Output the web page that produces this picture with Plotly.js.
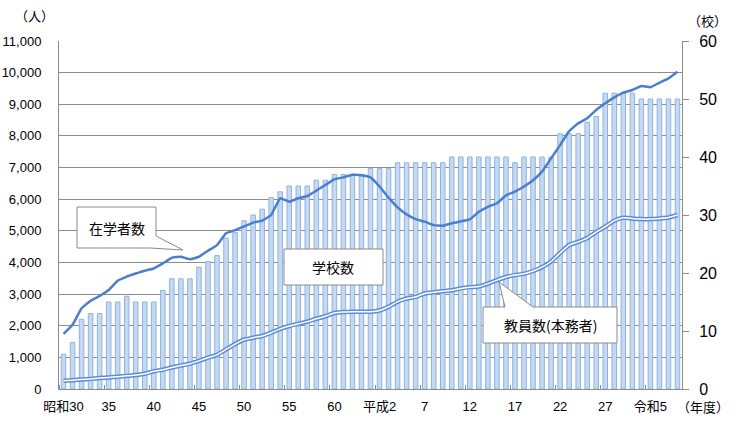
<!DOCTYPE html>
<html><head><meta charset="utf-8">
<script src="https://cdn.plot.ly/plotly-3.0.1.min.js"></script>
<style>html,body{margin:0;padding:0;background:#fff;}#chart{width:756px;height:428px;}</style>
</head><body><div id="chart"></div>
<script>
// fiscal years 昭和30 (1955) … 令和5 (2023)
const years = [1955,1956,1957,1958,1959,1960,1961,1962,1963,1964,1965,1966,1967,1968,1969,1970,1971,1972,1973,1974,1975,1976,1977,1978,1979,1980,1981,1982,1983,1984,1985,1986,1987,1988,1989,1990,1991,1992,1993,1994,1995,1996,1997,1998,1999,2000,2001,2002,2003,2004,2005,2006,2007,2008,2009,2010,2011,2012,2013,2014,2015,2016,2017,2018,2019,2020,2021,2022,2023];
// 学校数 (校) - right axis
const schools = [6,8,12,13,13,15,15,16,15,15,15,17,19,19,19,21,22,23,26,27,29,30,31,33,34,35,35,35,36,36,37,37,37,37,38,38,38,39,39,39,39,39,39,40,40,40,40,40,40,40,39,40,40,40,40,44,44,44,46,47,51,51,51,51,50,50,50,50,50];
// 在学者数 (人) - left axis
const students = [1740,2030,2550,2790,2940,3130,3420,3550,3650,3740,3810,3970,4150,4180,4100,4180,4370,4550,4920,5020,5140,5260,5320,5500,6030,5920,6030,6100,6270,6450,6630,6690,6770,6760,6690,6400,6050,5740,5520,5370,5290,5180,5160,5240,5300,5360,5600,5760,5870,6120,6240,6400,6600,6870,7290,7710,8150,8400,8560,8820,9030,9220,9370,9450,9580,9540,9680,9820,10030];
// 教員数(本務者) (人) - left axis
const teachers = [262,280,300,320,345,365,390,415,440,480,560,610,680,740,800,890,990,1080,1250,1420,1560,1620,1675,1780,1900,1990,2060,2130,2220,2300,2400,2430,2440,2440,2440,2480,2600,2760,2860,2910,3020,3060,3090,3120,3180,3220,3240,3330,3440,3540,3600,3640,3730,3850,4030,4300,4550,4650,4770,4960,5130,5320,5410,5390,5370,5370,5390,5420,5500];
// x-axis tick labels
const tickYears = [1955,1960,1965,1970,1975,1980,1985,1990,1995,2000,2005,2010,2015,2020];
const tickLabels = ['昭和30','35','40','45','50','55','60','平成2','7','12','17','22','27','令和5'];
const seriesNames = ['学校数','在学者数','教員数(本務者)'];

const L=59, R=682, T=41, B=389;
const px = x => (x-L)/(R-L);
const py = y => (B-y)/(B-T);
const P = (x,y) => px(x)+','+py(y);

const FONT = 'Liberation Sans, Arial, Noto Sans CJK JP, sans-serif';
const JFONT = 'Noto Sans CJK JP, sans-serif';
const GRID = '#8c8c8c';

const traces = [
  {type:'bar', name:seriesNames[0], x:years, y:schools, xaxis:'x', yaxis:'y', width:0.5,
   marker:{color:'#c6d9f1', line:{color:'#8db3e2', width:1}}},
  {type:'scatter', mode:'lines', name:seriesNames[2], x:years, y:teachers, xaxis:'x', yaxis:'y2',
   line:{color:'#5d8dd8', width:4.5, shape:'spline', smoothing:0.4}},
  {type:'scatter', mode:'lines', name:seriesNames[2], x:years, y:teachers, xaxis:'x', yaxis:'y2',
   line:{color:'#ffffff', width:1.5, shape:'spline', smoothing:0.4}},
  {type:'scatter', mode:'lines', name:seriesNames[1], x:years, y:students, xaxis:'x', yaxis:'y2',
   line:{color:'#4a7ecf', width:2.5, shape:'spline', smoothing:0.3}}
];

const boxStyle = {type:'path', xref:'paper', yref:'paper', layer:'above',
  fillcolor:'#ffffff', line:{color:'#8a8a8a', width:1}};

function note(text, x, y, size){
  return {text:text, xref:'paper', yref:'paper', x:px(x), y:py(y), xanchor:'center', yanchor:'middle',
    showarrow:false, font:{family:JFONT, size:size, color:'#000'}};
}

const layout = {
  width:756, height:428, showlegend:false,
  paper_bgcolor:'#ffffff', plot_bgcolor:'#ffffff',
  margin:{l:L, r:756-R, t:T, b:428-B, autoexpand:false},
  font:{family:FONT, color:'#000'},
  bargap:0,
  xaxis:{range:[1954.5,2023.5], tickmode:'array', tickvals:tickYears, ticktext:tickLabels,
    ticks:'', showline:true, linecolor:GRID, showgrid:false, zeroline:false,
    tickfont:{size:13, family:FONT, color:'#000'}, ticklabelstandoff:5,
    minor:{tickmode:'linear', tick0:1959.5, dtick:5, ticks:'inside', ticklen:4, tickcolor:GRID, showgrid:false}},
  yaxis:{side:'right', range:[0,60], dtick:10, showgrid:false, showline:true, linecolor:GRID,
    ticks:'outside', ticklen:6, tickcolor:GRID, zeroline:false, ticklabelstandoff:7,
    tickfont:{size:16, family:FONT, color:'#000'}},
  yaxis2:{overlaying:'y', side:'left', range:[0,11000], dtick:1000, tickformat:',d',
    showgrid:true, gridcolor:GRID, gridwidth:1, showline:true, linecolor:GRID,
    ticks:'', zeroline:false, tickfont:{size:13, family:FONT, color:'#000'}, ticklabelstandoff:14},
  shapes:[
    Object.assign({}, boxStyle, {path:'M'+P(77,207)+'L'+P(156,207)+'L'+P(156,236)+'L'+P(183,250)+'L'+P(150,248)+'L'+P(77,248)+'Z'}),
    Object.assign({}, boxStyle, {path:'M'+P(284,249)+'L'+P(383,249)+'L'+P(383,285)+'L'+P(284,285)+'Z'}),
    Object.assign({}, boxStyle, {path:'M'+P(483,307)+'L'+P(505,307)+'L'+P(499,282)+'L'+P(533,307)+'L'+P(617,307)+'L'+P(617,343)+'L'+P(483,343)+'Z'})
  ],
  annotations:[
    note(seriesNames[1], 117, 228, 14),
    note(seriesNames[0], 333, 267, 14),
    note(seriesNames[2], 550, 325, 14),
    note('（人）', 34, 15, 13),
    note('（校）', 707, 21, 13),
    note('（年度）', 703, 406, 13)
  ]
};

Plotly.newPlot('chart', traces, layout, {staticPlot:true, displayModeBar:false});
</script>
</body></html>
